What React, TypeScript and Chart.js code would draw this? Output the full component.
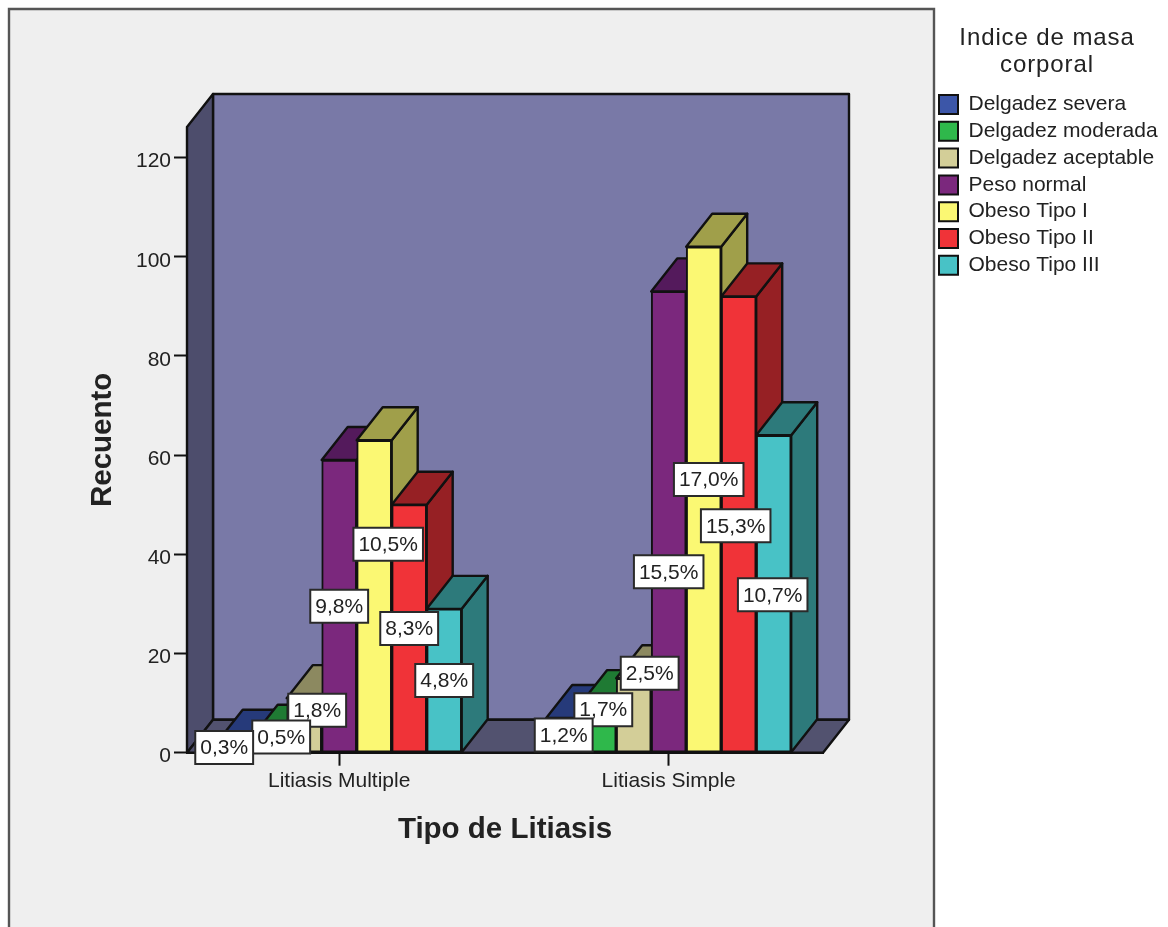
import React, { useEffect, useRef } from "react";
import { Chart, registerables } from "chart.js";

Chart.register(...registerables);

// Grouped counts by stone type and body-mass-index class, with their share of all 600 cases.
const categories = ["Litiasis Multiple", "Litiasis Simple"];
const seriesNames = [
  "Delgadez severa",
  "Delgadez moderada",
  "Delgadez aceptable",
  "Peso normal",
  "Obeso Tipo I",
  "Obeso Tipo II",
  "Obeso Tipo III",
];
const severa = [2, 7];
const moderada = [3, 10];
const aceptable = [11, 15];
const normal = [59, 93];
const obesoI = [63, 102];
const obesoII = [50, 92];
const obesoIII = [29, 64];
const seriesValues = [severa, moderada, aceptable, normal, obesoI, obesoII, obesoIII];

const percentLabels = [
  ["0,3%", "1,2%"],
  ["0,5%", "1,7%"],
  ["1,8%", "2,5%"],
  ["9,8%", "15,5%"],
  ["10,5%", "17,0%"],
  ["8,3%", "15,3%"],
  ["4,8%", "10,7%"],
];

const yTickStep = 20;

// Palette: front faces, and the darker sides and tops of the extruded bars.
const frontColors = ["#3c56a8", "#2fb84b", "#d3ce98", "#7b287d", "#fbf873", "#f03338", "#48c2c6"];
const sideColors = ["#263a7a", "#1f7a33", "#8c8960", "#541a5c", "#a09f4a", "#962024", "#2d7a7b"];
const FONT = "'Liberation Sans', Arial, sans-serif";
const INK = "#111111";
const DEPTH_X = 26;
const DEPTH_Y = 33;

// Label displacement from the middle of each bar, so the boxes stay readable.
const labelShiftX = [
  [-10, 0],
  [12, 4.6],
  [13, 16],
  [0, 0],
  [14, 5],
  [0, -3],
  [0, -1],
];
const labelShiftY = [
  [0, 0],
  [-8, -18],
  [-15, -42],
  [0, 50],
  [-52, -20],
  [0, 1.5],
  [0, 1],
];

function polygon(ctx: CanvasRenderingContext2D, pts: number[][], fill: string, lw = 2.4) {
  ctx.beginPath();
  pts.forEach(([x, y], i) => (i === 0 ? ctx.moveTo(x, y) : ctx.lineTo(x, y)));
  ctx.closePath();
  ctx.fillStyle = fill;
  ctx.fill();
  ctx.lineWidth = lw;
  ctx.lineJoin = "round";
  ctx.strokeStyle = INK;
  ctx.stroke();
}

const scenePlugin = {
  id: "scene3d",
  // Grey panel, then the back wall, side wall and floor of the box.
  beforeDraw(chart: any) {
    const { ctx, chartArea: a } = chart;
    ctx.save();
    ctx.fillStyle = "#ffffff";
    ctx.fillRect(0, 0, chart.width, chart.height);
    ctx.fillStyle = "#efefef";
    ctx.strokeStyle = "#555555";
    ctx.lineWidth = 2.4;
    ctx.beginPath();
    ctx.rect(9, 9, 925, chart.height + 20);
    ctx.fill();
    ctx.stroke();
    polygon(ctx, [
      [a.left + DEPTH_X, a.top - DEPTH_Y],
      [a.right + DEPTH_X, a.top - DEPTH_Y],
      [a.right + DEPTH_X, a.bottom - DEPTH_Y],
      [a.left + DEPTH_X, a.bottom - DEPTH_Y],
    ], "#7979a7");
    polygon(ctx, [
      [a.left, a.top],
      [a.left + DEPTH_X, a.top - DEPTH_Y],
      [a.left + DEPTH_X, a.bottom - DEPTH_Y],
      [a.left, a.bottom],
    ], "#4d4d6c");
    polygon(ctx, [
      [a.left, a.bottom],
      [a.left + DEPTH_X, a.bottom - DEPTH_Y],
      [a.right + DEPTH_X, a.bottom - DEPTH_Y],
      [a.right, a.bottom],
    ], "#52526f");

    // Legend heading, split over two lines.
    ctx.fillStyle = "#222222";
    ctx.font = `24px ${FONT}`;
    ctx.textAlign = "center";
    ctx.textBaseline = "middle";
    ctx.letterSpacing = "0.9px";
    ctx.fillText("Indice de masa", 1047, 38);
    ctx.fillText("corporal", 1047, 65);
    ctx.restore();
  },
  // Sides and tops go first, left to right, so the front faces cover what they should.
  beforeDatasetsDraw(chart: any) {
    const { ctx } = chart;
    ctx.save();
    categories.forEach((_, c) => {
      seriesValues.forEach((_s, d) => {
        const bar = chart.getDatasetMeta(d).data[c];
        const hw = bar.width / 2;
        const l = bar.x - hw;
        const r = bar.x + hw;
        polygon(ctx, [
          [r, bar.y],
          [r + DEPTH_X, bar.y - DEPTH_Y],
          [r + DEPTH_X, bar.base - DEPTH_Y],
          [r, bar.base],
        ], sideColors[d]);
        polygon(ctx, [
          [l, bar.y],
          [l + DEPTH_X, bar.y - DEPTH_Y],
          [r + DEPTH_X, bar.y - DEPTH_Y],
          [r, bar.y],
        ], sideColors[d]);
      });
    });
    ctx.restore();
  },
  // Percentage boxes, last series first so the earlier boxes lie on top.
  afterDatasetsDraw(chart: any) {
    const { ctx } = chart;
    ctx.save();
    ctx.font = `21px ${FONT}`;
    ctx.textAlign = "center";
    ctx.textBaseline = "middle";
    categories.forEach((_, c) => {
      for (let d = seriesValues.length - 1; d >= 0; d--) {
        const bar = chart.getDatasetMeta(d).data[c];
        const text = percentLabels[d][c];
        const cx = bar.x + labelShiftX[d][c];
        const cy = (bar.y + bar.base) / 2 + labelShiftY[d][c];
        const w = ctx.measureText(text).width + 10;
        const h = 33;
        ctx.fillStyle = "#ffffff";
        ctx.strokeStyle = "#2a2a2a";
        ctx.lineWidth = 2;
        ctx.beginPath();
        ctx.rect(cx - w / 2, cy - h / 2, w, h);
        ctx.fill();
        ctx.stroke();
        ctx.fillStyle = "#222222";
        ctx.fillText(text, cx, cy + 1);
      }
    });
    ctx.restore();
  },
  // The legend sits beside the panel, outside the plot area.
  afterLayout(chart: any) {
    const legend = chart.legend;
    const pad = legend.options.labels.padding;
    legend.left = 939 - pad;
    legend.top = 94 - pad;
    legend.right = 1168;
    legend.bottom = 320;
  },
};

export default function App() {
  const ref = useRef<HTMLCanvasElement>(null);

  useEffect(() => {
    if (!ref.current) return;
    const chart = new Chart(ref.current, {
      type: "bar",
      data: {
        datasets: seriesNames.map((name, d) => ({
          label: name,
          data: seriesValues[d].map((y, x) => ({ x, y })),
          backgroundColor: frontColors[d],
          borderColor: INK,
          borderWidth: 2,
          borderSkipped: false,
          barThickness: 35,
        })),
      },
      options: {
        animation: false,
        responsive: false,
        layout: { padding: { top: 127, right: 345, left: 0, bottom: 0 } },
        plugins: {
          title: { display: false },
          tooltip: { enabled: false },
          legend: {
            display: true,
            position: "chartArea",
            align: "start",
            labels: {
              boxWidth: 19,
              boxHeight: 19,
              padding: 5.8,
              color: "#222222",
              font: { family: FONT, size: 21 },
            },
          },
        },
        scales: {
          x: {
            type: "linear",
            offset: false,
            min: -0.4619,
            max: 1.4683,
            afterFit: (s: any) => {
              s.height = 174.3;
            },
            afterBuildTicks: (s: any) => {
              s.ticks = categories.map((_, value) => ({ value }));
            },
            grid: { offset: false, drawOnChartArea: false, tickLength: 13, tickColor: INK, tickWidth: 2 },
            border: { color: INK, width: 2 },
            ticks: {
              autoSkip: false,
              maxRotation: 0,
              padding: 3,
              color: "#222222",
              font: { family: FONT, size: 21 },
              callback: (v: any) => categories[v],
            },
            title: {
              display: true,
              text: "Tipo de Litiasis",
              color: "#222222",
              font: { family: FONT, size: 29.5, weight: "bold", lineHeight: 1.2 },
              padding: { top: 0, bottom: 79 },
            },
          },
          y: {
            min: 0,
            max: 126.15,
            afterFit: (s: any) => {
              s.width = 187;
            },
            grid: { drawOnChartArea: false, tickLength: 13, tickColor: INK, tickWidth: 2 },
            border: { color: INK, width: 2 },
            ticks: {
              stepSize: yTickStep,
              includeBounds: false,
              padding: 3,
              labelOffset: 4,
              color: "#222222",
              font: { family: FONT, size: 21 },
            },
            title: {
              display: true,
              text: "Recuento",
              color: "#222222",
              font: { family: FONT, size: 29.5, weight: "bold", lineHeight: 1.2 },
              padding: { top: 85, bottom: 0 },
            },
          },
        },
      },
      plugins: [scenePlugin],
    } as any);
    return () => chart.destroy();
  }, []);

  return (
    <div style={{ position: "absolute", left: 0, top: 0, width: 1168, height: 927 }}>
      <canvas ref={ref} width={1168} height={927} style={{ display: "block" }} />
    </div>
  );
}
